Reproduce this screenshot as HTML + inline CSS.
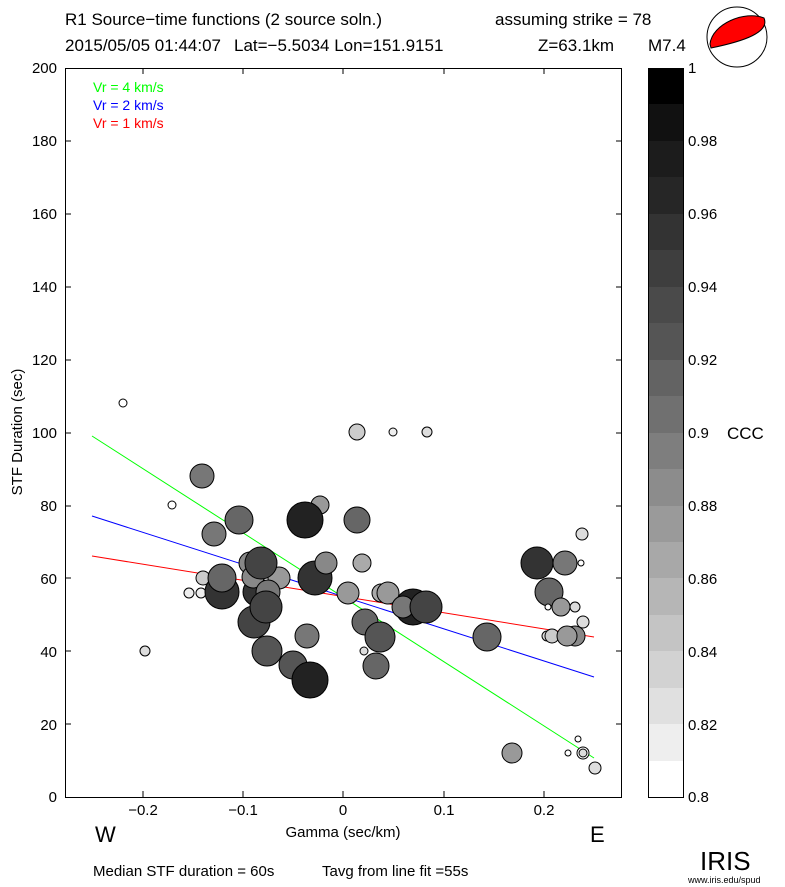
<!DOCTYPE html>
<html><head><meta charset="utf-8"><style>body{margin:0;background:#fff}svg{display:block}text{font-family:"Liberation Sans",sans-serif}</style></head><body>
<svg width="785" height="887" xmlns="http://www.w3.org/2000/svg">
<text x="65" y="25" font-size="17">R1 Source−time functions (2 source soln.)</text>
<text x="495" y="25" font-size="17">assuming strike = 78</text>
<text x="65" y="51" font-size="17">2015/05/05 01:44:07</text>
<text x="234" y="51" font-size="17">Lat=−5.5034 Lon=151.9151</text>
<text x="538" y="51" font-size="17">Z=63.1km</text>
<text x="648" y="51" font-size="17">M7.4</text>
<circle cx="737" cy="37" r="30" fill="#fff" stroke="#000" stroke-width="1"/>
<path d="M710,44 C712,24 745,10 764,18 C770,32 745,41 711,48 Z" fill="#f00" stroke="#000" stroke-width="1"/>
<g font-size="15" text-anchor="end">
<text x="57" y="73">200</text><text x="57" y="146">180</text><text x="57" y="219">160</text><text x="57" y="292">140</text><text x="57" y="365">120</text><text x="57" y="438">100</text><text x="57" y="511">80</text><text x="57" y="584">60</text><text x="57" y="657">40</text><text x="57" y="730">20</text><text x="57" y="802">0</text>
</g>
<g font-size="15" text-anchor="middle">
<text x="143" y="815">−0.2</text><text x="243" y="815">−0.1</text><text x="343" y="815">0</text><text x="444" y="815">0.1</text><text x="544" y="815">0.2</text>
</g>
<text x="22" y="432" font-size="15" text-anchor="middle" transform="rotate(-90 22 432)">STF Duration (sec)</text>
<text x="343" y="837" font-size="15" text-anchor="middle">Gamma (sec/km)</text>
<text x="95" y="842" font-size="22">W</text><text x="590" y="842" font-size="22">E</text>
<text x="93" y="876" font-size="15">Median STF duration = 60s</text>
<text x="322" y="876" font-size="15">Tavg from line fit =55s</text>
<text x="700" y="870" font-size="26" font-family="Liberation Serif,serif">IRIS</text>
<text x="688" y="883" font-size="9">www.iris.edu/spud</text>
<g stroke="#000" stroke-width="1" fill="none">
<rect x="65.5" y="68.5" width="556" height="729"/>
<path d="M143,797v-6M243,797v-6M343,797v-6M444,797v-6M544,797v-6M143,68v6M243,68v6M343,68v6M444,68v6M544,68v6"/>
<path d="M65,141h6M65,214h6M65,287h6M65,360h6M65,433h6M65,506h6M65,578h6M65,651h6M65,724h6M622,141h-6M622,214h-6M622,287h-6M622,360h-6M622,433h-6M622,506h-6M622,578h-6M622,651h-6M622,724h-6"/>
</g>
<text x="93" y="92" font-size="14" fill="#0f0">Vr = 4 km/s</text>
<text x="93" y="110" font-size="14" fill="#00f">Vr = 2 km/s</text>
<text x="93" y="128" font-size="14" fill="#f00">Vr = 1 km/s</text>
<line x1="92" y1="436" x2="594" y2="758" stroke="#0f0"/>
<line x1="92" y1="516" x2="594" y2="677" stroke="#00f"/>
<line x1="92" y1="556" x2="594" y2="637" stroke="#f00"/>
<g stroke="#000" stroke-width="1">
<circle cx="123" cy="403" r="4" fill="#fff"/>
<circle cx="357" cy="432" r="8" fill="#ccc"/>
<circle cx="393" cy="432" r="4" fill="#eee"/>
<circle cx="427" cy="432" r="5" fill="#ddd"/>
<circle cx="202" cy="476" r="12" fill="#777"/>
<circle cx="172" cy="505" r="4" fill="#fff"/>
<circle cx="320" cy="505" r="9" fill="#999"/>
<circle cx="239" cy="520" r="14" fill="#666"/>
<circle cx="214" cy="534" r="12" fill="#777"/>
<circle cx="305" cy="520" r="18" fill="#222"/>
<circle cx="357" cy="520" r="13" fill="#666"/>
<circle cx="362" cy="563" r="9" fill="#aaa"/>
<circle cx="250" cy="563" r="11" fill="#888"/>
<circle cx="203" cy="578" r="7" fill="#ccc"/>
<circle cx="189" cy="593" r="5" fill="#eee"/>
<circle cx="201" cy="593" r="5" fill="#eee"/>
<circle cx="222" cy="592" r="17" fill="#333"/>
<circle cx="222" cy="578" r="14" fill="#666"/>
<circle cx="257" cy="592" r="14" fill="#333"/>
<circle cx="253" cy="577" r="11" fill="#888"/>
<circle cx="279" cy="578" r="11" fill="#999"/>
<circle cx="261" cy="563" r="16" fill="#444"/>
<circle cx="268" cy="592" r="12" fill="#777"/>
<circle cx="254" cy="622" r="16" fill="#444"/>
<circle cx="266" cy="607" r="16" fill="#444"/>
<circle cx="315" cy="578" r="17" fill="#333"/>
<circle cx="326" cy="563" r="11" fill="#888"/>
<circle cx="348" cy="593" r="11" fill="#999"/>
<circle cx="381" cy="593" r="9" fill="#aaa"/>
<circle cx="388" cy="593" r="11" fill="#999"/>
<circle cx="413" cy="607" r="18" fill="#222"/>
<circle cx="403" cy="607" r="11" fill="#777"/>
<circle cx="426" cy="607" r="16" fill="#444"/>
<circle cx="365" cy="622" r="13" fill="#666"/>
<circle cx="380" cy="637" r="15" fill="#555"/>
<circle cx="307" cy="636" r="12" fill="#777"/>
<circle cx="267" cy="651" r="15" fill="#555"/>
<circle cx="293" cy="665" r="14" fill="#555"/>
<circle cx="310" cy="680" r="18" fill="#222"/>
<circle cx="376" cy="666" r="13" fill="#666"/>
<circle cx="364" cy="651" r="4" fill="#ddd"/>
<circle cx="145" cy="651" r="5" fill="#ddd"/>
<circle cx="582" cy="534" r="6" fill="#ddd"/>
<circle cx="537" cy="563" r="16" fill="#333"/>
<circle cx="565" cy="563" r="12" fill="#777"/>
<circle cx="581" cy="563" r="3" fill="#fff"/>
<circle cx="549" cy="592" r="14" fill="#666"/>
<circle cx="561" cy="607" r="9" fill="#999"/>
<circle cx="548" cy="607" r="3" fill="#fff"/>
<circle cx="575" cy="607" r="5" fill="#ddd"/>
<circle cx="583" cy="622" r="6" fill="#ddd"/>
<circle cx="547" cy="636" r="5" fill="#ddd"/>
<circle cx="552" cy="636" r="7" fill="#ccc"/>
<circle cx="575" cy="636" r="10" fill="#888"/>
<circle cx="567" cy="636" r="10" fill="#999"/>
<circle cx="487" cy="637" r="14" fill="#666"/>
<circle cx="512" cy="753" r="10" fill="#999"/>
<circle cx="578" cy="739" r="3" fill="#fff"/>
<circle cx="568" cy="753" r="3" fill="#fff"/>
<circle cx="583" cy="753" r="6" fill="#fff"/>
<circle cx="583" cy="753" r="4" fill="#ddd"/>
<circle cx="595" cy="768" r="6" fill="#ddd"/>
</g>
<g>
<rect x="648" y="68" width="35" height="37" fill="#000"/>
<rect x="648" y="104" width="35" height="37" fill="#111"/>
<rect x="648" y="141" width="35" height="37" fill="#1c1c1c"/>
<rect x="648" y="177" width="35" height="37" fill="#262626"/>
<rect x="648" y="214" width="35" height="37" fill="#333"/>
<rect x="648" y="250" width="35" height="37" fill="#3e3e3e"/>
<rect x="648" y="287" width="35" height="37" fill="#4a4a4a"/>
<rect x="648" y="323" width="35" height="37" fill="#555"/>
<rect x="648" y="360" width="35" height="37" fill="#636363"/>
<rect x="648" y="396" width="35" height="37" fill="#707070"/>
<rect x="648" y="433" width="35" height="37" fill="#7e7e7e"/>
<rect x="648" y="469" width="35" height="37" fill="#8c8c8c"/>
<rect x="648" y="506" width="35" height="37" fill="#9a9a9a"/>
<rect x="648" y="542" width="35" height="37" fill="#a8a8a8"/>
<rect x="648" y="578" width="35" height="37" fill="#b6b6b6"/>
<rect x="648" y="615" width="35" height="37" fill="#c4c4c4"/>
<rect x="648" y="651" width="35" height="37" fill="#d2d2d2"/>
<rect x="648" y="688" width="35" height="37" fill="#e0e0e0"/>
<rect x="648" y="724" width="35" height="37" fill="#eeeeee"/>
<rect x="648" y="761" width="35" height="36" fill="#fff"/>
<rect x="648.5" y="68.5" width="35" height="729" fill="none" stroke="#000"/>
</g>
<g font-size="15">
<text x="688" y="73">1</text><text x="688" y="146">0.98</text><text x="688" y="219">0.96</text><text x="688" y="292">0.94</text><text x="688" y="365">0.92</text><text x="688" y="438">0.9</text><text x="688" y="511">0.88</text><text x="688" y="584">0.86</text><text x="688" y="657">0.84</text><text x="688" y="730">0.82</text><text x="688" y="802">0.8</text>
</g>
<text x="727" y="439" font-size="17">CCC</text>
</svg>
</body></html>
